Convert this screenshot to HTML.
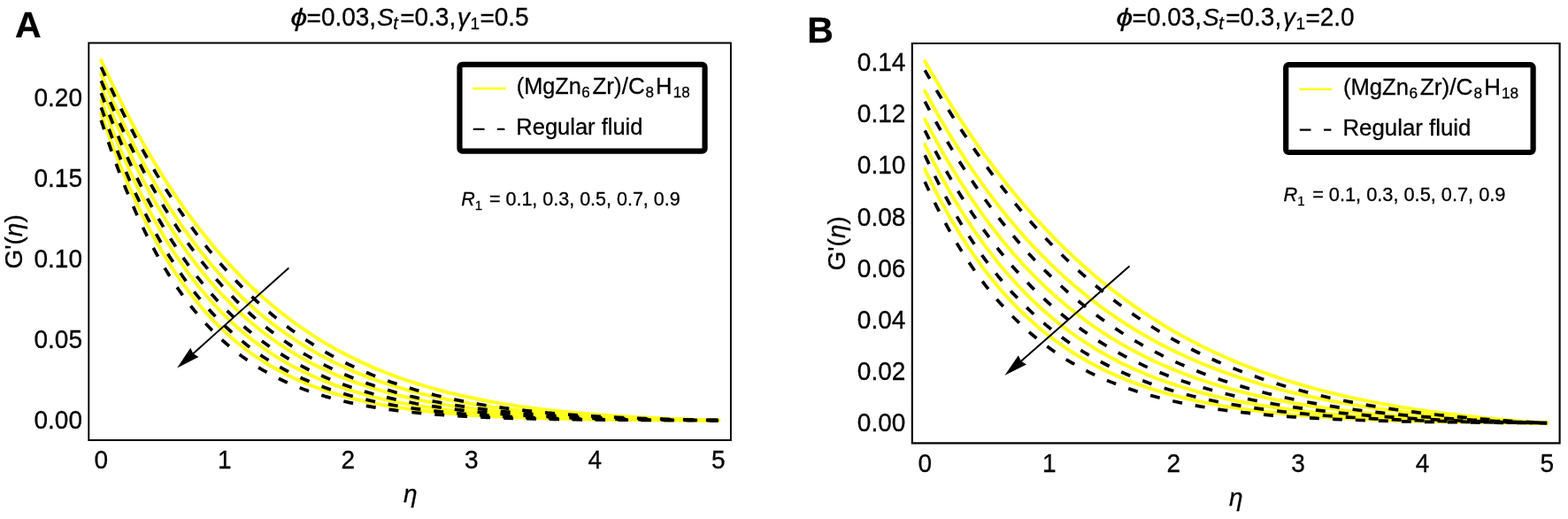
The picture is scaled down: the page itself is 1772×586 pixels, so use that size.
<!DOCTYPE html>
<html><head><meta charset="utf-8"><style>
html,body{margin:0;padding:0;background:#fff;}
svg{display:block;}
text{font-family:"Liberation Sans",Arial,sans-serif;fill:#000;stroke:#000;stroke-width:0.3px;}
.t28{font-size:28px;}
.t25{font-size:25px;}
.lab{font-size:41px;font-weight:bold;}
</style></head><body>
<svg width="1772" height="586" viewBox="0 0 1772 586">
<rect width="1772" height="586" fill="#fff"/>
<text x="16.88" y="42.3" class="lab">A</text>
<text x="912.36" y="47.6" class="lab">B</text>
<text transform="translate(328.4,28.8) scale(1.2,1)" class="t28" font-style="italic">&#x3D5;</text><text x="346.53" y="30.4" class="t28">=</text><text transform="translate(362.88,28.8) scale(1,1.03)" class="t28">0.03,</text><text x="426.11" y="28.8" class="t28" font-style="italic">S</text><text x="444.19" y="33.0" font-size="20" font-style="italic">t</text><text x="452.13" y="30.4" class="t28">=</text><text transform="translate(468.48,28.8) scale(1,1.03)" class="t28">0.3,</text><text x="517.08" y="28.8" class="t28" font-style="italic">&#x3B3;</text><text x="531.55" y="33.2" font-size="19">1</text><text x="542.43" y="30.4" class="t28">=</text><text transform="translate(558.78,28.8) scale(1,1.03)" class="t28">0.5</text>
<text transform="translate(1261.4,28.8) scale(1.2,1)" class="t28" font-style="italic">&#x3D5;</text><text x="1279.53" y="30.4" class="t28">=</text><text transform="translate(1295.88,28.8) scale(1,1.03)" class="t28">0.03,</text><text x="1359.11" y="28.8" class="t28" font-style="italic">S</text><text x="1377.19" y="33.0" font-size="20" font-style="italic">t</text><text x="1385.13" y="30.4" class="t28">=</text><text transform="translate(1401.48,28.8) scale(1,1.03)" class="t28">0.3,</text><text x="1450.08" y="28.8" class="t28" font-style="italic">&#x3B3;</text><text x="1464.55" y="33.2" font-size="19">1</text><text x="1475.43" y="30.4" class="t28">=</text><text transform="translate(1491.78,28.8) scale(1,1.03)" class="t28">2.0</text>
<g fill="none" stroke-linejoin="round"><polyline points="114.3,68.2 115.9,71.6 118.2,76.6 120.8,82.3 123.8,88.6 127.0,95.2 130.4,102.2 134.0,109.4 137.7,116.8 141.6,124.4 145.6,132.1 149.7,139.8 153.9,147.7 158.3,155.5 162.7,163.4 167.2,171.3 171.9,179.2 176.6,187.0 181.4,194.8 186.3,202.6 191.3,210.3 196.3,217.9 201.4,225.5 206.6,232.9 211.8,240.3 217.2,247.5 222.5,254.7 228.0,261.7 233.5,268.6 239.0,275.4 244.7,282.1 250.3,288.7 256.1,295.1 261.9,301.4 267.7,307.5 273.6,313.6 279.5,319.4 285.5,325.2 291.6,330.8 297.6,336.3 303.8,341.6 310.0,346.8 316.2,351.8 322.5,356.7 328.8,361.5 335.1,366.2 341.5,370.7 348.0,375.0 354.5,379.3 361.0,383.4 367.6,387.4 374.2,391.2 380.8,395.0 387.5,398.6 394.2,402.0 401.0,405.4 407.8,408.6 414.6,411.8 421.4,414.8 428.3,417.7 435.3,420.5 442.3,423.2 449.3,425.8 456.3,428.3 463.4,430.7 470.5,433.0 477.6,435.2 484.8,437.3 492.0,439.3 499.2,441.3 506.5,443.2 513.8,444.9 521.1,446.7 528.5,448.3 535.9,449.8 543.3,451.3 550.8,452.8 558.2,454.1 565.8,455.4 573.3,456.6 580.9,457.8 588.5,458.9 596.1,460.0 603.7,461.0 611.4,462.0 619.1,462.9 626.9,463.7 634.6,464.6 642.4,465.3 650.2,466.1 658.1,466.8 665.9,467.4 673.8,468.1 681.7,468.7 689.7,469.2 697.7,469.7 705.6,470.2 713.7,470.7 721.7,471.2 729.8,471.6 737.9,472.0 746.0,472.3 754.1,472.7 762.3,473.0 770.5,473.3 778.7,473.6 786.9,473.9 795.2,474.1 803.5,474.4 811.8,474.6" stroke="#ffff1e" stroke-width="4.0" stroke-linecap="round"/>
<polyline points="114.3,83.7 115.9,87.4 118.2,92.8 120.8,99.0 123.8,105.8 127.0,113.0 130.4,120.4 134.0,128.2 137.7,136.1 141.6,144.1 145.6,152.3 149.7,160.5 153.9,168.8 158.3,177.0 162.7,185.3 167.2,193.5 171.9,201.7 176.6,209.8 181.4,217.8 186.3,225.8 191.3,233.7 196.3,241.4 201.4,249.1 206.6,256.6 211.8,264.0 217.2,271.3 222.5,278.4 228.0,285.4 233.5,292.2 239.0,298.9 244.7,305.5 250.3,311.9 256.1,318.1 261.9,324.2 267.7,330.1 273.6,335.8 279.5,341.4 285.5,346.9 291.6,352.2 297.6,357.3 303.8,362.3 310.0,367.1 316.2,371.8 322.5,376.3 328.8,380.7 335.1,384.9 341.5,389.0 348.0,393.0 354.5,396.8 361.0,400.5 367.6,404.0 374.2,407.4 380.8,410.7 387.5,413.8 394.2,416.9 401.0,419.8 407.8,422.6 414.6,425.3 421.4,427.9 428.3,430.3 435.3,432.7 442.3,434.9 449.3,437.1 456.3,439.2 463.4,441.2 470.5,443.1 477.6,444.9 484.8,446.6 492.0,448.2 499.2,449.8 506.5,451.3 513.8,452.7 521.1,454.1 528.5,455.3 535.9,456.6 543.3,457.7 550.8,458.8 558.2,459.9 565.8,460.8 573.3,461.8 580.9,462.7 588.5,463.5 596.1,464.3 603.7,465.1 611.4,465.8 619.1,466.4 626.9,467.1 634.6,467.7 642.4,468.2 650.2,468.8 658.1,469.3 665.9,469.7 673.8,470.2 681.7,470.6 689.7,471.0 697.7,471.3 705.6,471.7 713.7,472.0 721.7,472.3 729.8,472.6 737.9,472.9 746.0,473.1 754.1,473.4 762.3,473.6 770.5,473.8 778.7,474.0 786.9,474.1 795.2,474.3 803.5,474.5 811.8,474.6" stroke="#ffff1e" stroke-width="4.0" stroke-linecap="round"/>
<polyline points="114.3,97.8 115.9,101.8 118.2,107.6 120.8,114.3 123.8,121.5 127.0,129.1 130.4,137.1 134.0,145.3 137.7,153.7 141.6,162.2 145.6,170.7 149.7,179.4 153.9,188.0 158.3,196.6 162.7,205.1 167.2,213.6 171.9,222.1 176.6,230.4 181.4,238.6 186.3,246.7 191.3,254.7 196.3,262.6 201.4,270.3 206.6,277.8 211.8,285.2 217.2,292.4 222.5,299.5 228.0,306.4 233.5,313.1 239.0,319.6 244.7,326.0 250.3,332.2 256.1,338.2 261.9,344.0 267.7,349.7 273.6,355.2 279.5,360.5 285.5,365.6 291.6,370.6 297.6,375.4 303.8,380.0 310.0,384.5 316.2,388.8 322.5,392.9 328.8,396.9 335.1,400.7 341.5,404.4 348.0,408.0 354.5,411.4 361.0,414.6 367.6,417.8 374.2,420.8 380.8,423.6 387.5,426.4 394.2,429.0 401.0,431.5 407.8,433.9 414.6,436.2 421.4,438.4 428.3,440.4 435.3,442.4 442.3,444.3 449.3,446.1 456.3,447.8 463.4,449.4 470.5,451.0 477.6,452.4 484.8,453.8 492.0,455.1 499.2,456.4 506.5,457.6 513.8,458.7 521.1,459.7 528.5,460.7 535.9,461.7 543.3,462.6 550.8,463.4 558.2,464.2 565.8,464.9 573.3,465.6 580.9,466.3 588.5,466.9 596.1,467.5 603.7,468.1 611.4,468.6 619.1,469.1 626.9,469.5 634.6,469.9 642.4,470.3 650.2,470.7 658.1,471.1 665.9,471.4 673.8,471.7 681.7,472.0 689.7,472.2 697.7,472.5 705.6,472.7 713.7,472.9 721.7,473.1 729.8,473.3 737.9,473.5 746.0,473.7 754.1,473.8 762.3,474.0 770.5,474.1 778.7,474.2 786.9,474.3 795.2,474.4 803.5,474.5 811.8,474.6" stroke="#ffff1e" stroke-width="4.0" stroke-linecap="round"/>
<polyline points="114.3,113.2 115.9,117.5 118.2,123.6 120.8,130.7 123.8,138.5 127.0,146.6 130.4,155.1 134.0,163.7 137.7,172.6 141.6,181.5 145.6,190.5 149.7,199.5 153.9,208.4 158.3,217.3 162.7,226.2 167.2,234.9 171.9,243.5 176.6,252.1 181.4,260.4 186.3,268.6 191.3,276.7 196.3,284.5 201.4,292.2 206.6,299.7 211.8,307.0 217.2,314.1 222.5,321.1 228.0,327.8 233.5,334.3 239.0,340.6 244.7,346.7 250.3,352.7 256.1,358.4 261.9,363.9 267.7,369.2 273.6,374.4 279.5,379.3 285.5,384.1 291.6,388.6 297.6,393.0 303.8,397.2 310.0,401.3 316.2,405.2 322.5,408.9 328.8,412.4 335.1,415.8 341.5,419.1 348.0,422.2 354.5,425.1 361.0,428.0 367.6,430.6 374.2,433.2 380.8,435.6 387.5,437.9 394.2,440.1 401.0,442.2 407.8,444.2 414.6,446.1 421.4,447.9 428.3,449.6 435.3,451.2 442.3,452.7 449.3,454.1 456.3,455.4 463.4,456.7 470.5,457.9 477.6,459.0 484.8,460.1 492.0,461.1 499.2,462.0 506.5,462.9 513.8,463.8 521.1,464.5 528.5,465.3 535.9,466.0 543.3,466.6 550.8,467.2 558.2,467.8 565.8,468.3 573.3,468.8 580.9,469.3 588.5,469.7 596.1,470.1 603.7,470.5 611.4,470.8 619.1,471.1 626.9,471.4 634.6,471.7 642.4,472.0 650.2,472.2 658.1,472.5 665.9,472.7 673.8,472.9 681.7,473.0 689.7,473.2 697.7,473.4 705.6,473.5 713.7,473.6 721.7,473.8 729.8,473.9 737.9,474.0 746.0,474.1 754.1,474.2 762.3,474.2 770.5,474.3 778.7,474.4 786.9,474.4 795.2,474.5 803.5,474.6 811.8,474.6" stroke="#ffff1e" stroke-width="4.0" stroke-linecap="round"/>
<polyline points="114.3,128.1 115.9,132.7 118.2,139.3 120.8,146.8 123.8,155.0 127.0,163.7 130.4,172.6 134.0,181.7 137.7,191.0 141.6,200.3 145.6,209.7 149.7,219.0 153.9,228.3 158.3,237.4 162.7,246.5 167.2,255.4 171.9,264.2 176.6,272.8 181.4,281.2 186.3,289.4 191.3,297.4 196.3,305.2 201.4,312.8 206.6,320.2 211.8,327.3 217.2,334.3 222.5,340.9 228.0,347.4 233.5,353.7 239.0,359.7 244.7,365.5 250.3,371.0 256.1,376.4 261.9,381.6 267.7,386.5 273.6,391.2 279.5,395.8 285.5,400.1 291.6,404.2 297.6,408.2 303.8,412.0 310.0,415.6 316.2,419.0 322.5,422.3 328.8,425.4 335.1,428.3 341.5,431.1 348.0,433.8 354.5,436.3 361.0,438.7 367.6,440.9 374.2,443.1 380.8,445.1 387.5,447.0 394.2,448.8 401.0,450.5 407.8,452.1 414.6,453.7 421.4,455.1 428.3,456.4 435.3,457.7 442.3,458.9 449.3,460.0 456.3,461.0 463.4,462.0 470.5,462.9 477.6,463.8 484.8,464.6 492.0,465.3 499.2,466.0 506.5,466.7 513.8,467.3 521.1,467.9 528.5,468.4 535.9,468.9 543.3,469.3 550.8,469.8 558.2,470.2 565.8,470.5 573.3,470.9 580.9,471.2 588.5,471.5 596.1,471.8 603.7,472.0 611.4,472.2 619.1,472.5 626.9,472.7 634.6,472.8 642.4,473.0 650.2,473.2 658.1,473.3 665.9,473.4 673.8,473.6 681.7,473.7 689.7,473.8 697.7,473.9 705.6,474.0 713.7,474.0 721.7,474.1 729.8,474.2 737.9,474.2 746.0,474.3 754.1,474.3 762.3,474.4 770.5,474.4 778.7,474.5 786.9,474.5 795.2,474.5 803.5,474.6 811.8,474.6" stroke="#ffff1e" stroke-width="4.0" stroke-linecap="round"/>
<polyline points="114.3,75.7 115.9,79.2 118.2,84.2 120.8,90.0 123.8,96.3 127.0,103.0 130.4,110.0 134.0,117.3 137.7,124.8 141.6,132.5 145.6,140.3 149.7,148.1 153.9,156.1 158.3,164.0 162.7,172.0 167.2,180.0 171.9,188.0 176.6,196.0 181.4,203.9 186.3,211.8 191.3,219.6 196.3,227.4 201.4,235.0 206.6,242.6 211.8,250.0 217.2,257.4 222.5,264.7 228.0,271.8 233.5,278.8 239.0,285.7 244.7,292.4 250.3,299.1 256.1,305.5 261.9,311.9 267.7,318.1 273.6,324.1 279.5,330.1 285.5,335.8 291.6,341.4 297.6,346.9 303.8,352.2 310.0,357.4 316.2,362.4 322.5,367.3 328.8,372.0 335.1,376.6 341.5,381.0 348.0,385.3 354.5,389.4 361.0,393.5 367.6,397.3 374.2,401.1 380.8,404.7 387.5,408.1 394.2,411.5 401.0,414.7 407.8,417.8 414.6,420.7 421.4,423.6 428.3,426.3 435.3,428.9 442.3,431.4 449.3,433.8 456.3,436.1 463.4,438.3 470.5,440.4 477.6,442.4 484.8,444.3 492.0,446.2 499.2,447.9 506.5,449.5 513.8,451.1 521.1,452.6 528.5,454.0 535.9,455.4 543.3,456.7 550.8,457.9 558.2,459.0 565.8,460.1 573.3,461.1 580.9,462.1 588.5,463.0 596.1,463.9 603.7,464.7 611.4,465.4 619.1,466.2 626.9,466.8 634.6,467.5 642.4,468.1 650.2,468.6 658.1,469.2 665.9,469.7 673.8,470.1 681.7,470.6 689.7,471.0 697.7,471.4 705.6,471.7 713.7,472.0 721.7,472.3 729.8,472.6 737.9,472.9 746.0,473.2 754.1,473.4 762.3,473.6 770.5,473.8 778.7,474.0 786.9,474.2 795.2,474.3 803.5,474.5 811.8,474.6" stroke="#000" stroke-width="3.7" stroke-dasharray="11 15"/>
<polyline points="114.3,91.3 115.9,95.0 118.2,100.5 120.8,106.7 123.8,113.6 127.0,120.8 130.4,128.4 134.0,136.3 137.7,144.3 141.6,152.4 145.6,160.7 149.7,169.0 153.9,177.4 158.3,185.7 162.7,194.1 167.2,202.4 171.9,210.7 176.6,218.9 181.4,227.1 186.3,235.2 191.3,243.1 196.3,251.0 201.4,258.7 206.6,266.3 211.8,273.8 217.2,281.1 222.5,288.3 228.0,295.3 233.5,302.2 239.0,308.9 244.7,315.5 250.3,321.9 256.1,328.1 261.9,334.2 267.7,340.1 273.6,345.8 279.5,351.4 285.5,356.8 291.6,362.1 297.6,367.1 303.8,372.0 310.0,376.8 316.2,381.4 322.5,385.8 328.8,390.1 335.1,394.2 341.5,398.2 348.0,402.0 354.5,405.7 361.0,409.2 367.6,412.6 374.2,415.8 380.8,419.0 387.5,422.0 394.2,424.8 401.0,427.6 407.8,430.2 414.6,432.7 421.4,435.1 428.3,437.4 435.3,439.5 442.3,441.6 449.3,443.6 456.3,445.5 463.4,447.3 470.5,448.9 477.6,450.6 484.8,452.1 492.0,453.5 499.2,454.9 506.5,456.2 513.8,457.4 521.1,458.6 528.5,459.7 535.9,460.7 543.3,461.7 550.8,462.6 558.2,463.5 565.8,464.3 573.3,465.1 580.9,465.8 588.5,466.5 596.1,467.1 603.7,467.7 611.4,468.3 619.1,468.8 626.9,469.3 634.6,469.7 642.4,470.2 650.2,470.6 658.1,470.9 665.9,471.3 673.8,471.6 681.7,471.9 689.7,472.2 697.7,472.4 705.6,472.7 713.7,472.9 721.7,473.1 729.8,473.3 737.9,473.5 746.0,473.7 754.1,473.8 762.3,474.0 770.5,474.1 778.7,474.2 786.9,474.3 795.2,474.4 803.5,474.5 811.8,474.6" stroke="#000" stroke-width="3.7" stroke-dasharray="11 15"/>
<polyline points="114.3,105.2 115.9,109.4 118.2,115.5 120.8,122.4 123.8,130.0 127.0,138.0 130.4,146.3 134.0,154.8 137.7,163.5 141.6,172.3 145.6,181.2 149.7,190.1 153.9,199.0 158.3,207.8 162.7,216.6 167.2,225.3 171.9,234.0 176.6,242.5 181.4,250.8 186.3,259.1 191.3,267.2 196.3,275.1 201.4,282.8 206.6,290.4 211.8,297.8 217.2,305.1 222.5,312.1 228.0,318.9 233.5,325.6 239.0,332.1 244.7,338.3 250.3,344.4 256.1,350.3 261.9,356.0 267.7,361.5 273.6,366.8 279.5,372.0 285.5,376.9 291.6,381.7 297.6,386.3 303.8,390.7 310.0,394.9 316.2,399.0 322.5,402.9 328.8,406.7 335.1,410.3 341.5,413.7 348.0,417.0 354.5,420.2 361.0,423.2 367.6,426.0 374.2,428.8 380.8,431.4 387.5,433.9 394.2,436.3 401.0,438.5 407.8,440.7 414.6,442.7 421.4,444.7 428.3,446.5 435.3,448.2 442.3,449.9 449.3,451.5 456.3,452.9 463.4,454.3 470.5,455.7 477.6,456.9 484.8,458.1 492.0,459.2 499.2,460.3 506.5,461.2 513.8,462.2 521.1,463.1 528.5,463.9 535.9,464.7 543.3,465.4 550.8,466.1 558.2,466.7 565.8,467.3 573.3,467.9 580.9,468.4 588.5,468.9 596.1,469.3 603.7,469.8 611.4,470.2 619.1,470.6 626.9,470.9 634.6,471.2 642.4,471.5 650.2,471.8 658.1,472.1 665.9,472.3 673.8,472.5 681.7,472.8 689.7,472.9 697.7,473.1 705.6,473.3 713.7,473.5 721.7,473.6 729.8,473.7 737.9,473.9 746.0,474.0 754.1,474.1 762.3,474.2 770.5,474.3 778.7,474.3 786.9,474.4 795.2,474.5 803.5,474.5 811.8,474.6" stroke="#000" stroke-width="3.7" stroke-dasharray="11 15"/>
<polyline points="114.3,121.3 115.9,125.7 118.2,132.2 120.8,139.6 123.8,147.6 127.0,156.1 130.4,164.9 134.0,173.9 137.7,183.0 141.6,192.2 145.6,201.5 149.7,210.7 153.9,219.9 158.3,229.0 162.7,238.1 167.2,247.0 171.9,255.7 176.6,264.3 181.4,272.8 186.3,281.1 191.3,289.2 196.3,297.0 201.4,304.7 206.6,312.2 211.8,319.5 217.2,326.5 222.5,333.4 228.0,340.0 233.5,346.4 239.0,352.6 244.7,358.5 250.3,364.3 256.1,369.8 261.9,375.2 267.7,380.3 273.6,385.2 279.5,390.0 285.5,394.5 291.6,398.8 297.6,403.0 303.8,406.9 310.0,410.7 316.2,414.4 322.5,417.8 328.8,421.1 335.1,424.2 341.5,427.2 348.0,430.0 354.5,432.7 361.0,435.3 367.6,437.7 374.2,440.0 380.8,442.2 387.5,444.3 394.2,446.2 401.0,448.1 407.8,449.8 414.6,451.4 421.4,453.0 428.3,454.5 435.3,455.8 442.3,457.1 449.3,458.3 456.3,459.5 463.4,460.6 470.5,461.6 477.6,462.5 484.8,463.4 492.0,464.2 499.2,465.0 506.5,465.7 513.8,466.4 521.1,467.0 528.5,467.6 535.9,468.2 543.3,468.7 550.8,469.2 558.2,469.6 565.8,470.0 573.3,470.4 580.9,470.7 588.5,471.1 596.1,471.4 603.7,471.7 611.4,471.9 619.1,472.2 626.9,472.4 634.6,472.6 642.4,472.8 650.2,473.0 658.1,473.1 665.9,473.3 673.8,473.4 681.7,473.6 689.7,473.7 697.7,473.8 705.6,473.9 713.7,474.0 721.7,474.0 729.8,474.1 737.9,474.2 746.0,474.3 754.1,474.3 762.3,474.4 770.5,474.4 778.7,474.5 786.9,474.5 795.2,474.5 803.5,474.6 811.8,474.6" stroke="#000" stroke-width="3.7" stroke-dasharray="11 15"/>
<polyline points="114.3,135.7 115.9,140.6 118.2,147.6 120.8,155.6 123.8,164.2 127.0,173.3 130.4,182.7 134.0,192.3 137.7,202.0 141.6,211.7 145.6,221.4 149.7,231.0 153.9,240.6 158.3,250.0 162.7,259.3 167.2,268.5 171.9,277.4 176.6,286.1 181.4,294.6 186.3,302.9 191.3,311.0 196.3,318.8 201.4,326.3 206.6,333.7 211.8,340.7 217.2,347.5 222.5,354.1 228.0,360.4 233.5,366.5 239.0,372.3 244.7,377.9 250.3,383.2 256.1,388.4 261.9,393.2 267.7,397.9 273.6,402.4 279.5,406.6 285.5,410.7 291.6,414.5 297.6,418.2 303.8,421.6 310.0,424.9 316.2,428.0 322.5,431.0 328.8,433.8 335.1,436.4 341.5,438.9 348.0,441.3 354.5,443.5 361.0,445.6 367.6,447.6 374.2,449.4 380.8,451.2 387.5,452.8 394.2,454.4 401.0,455.8 407.8,457.2 414.6,458.4 421.4,459.6 428.3,460.7 435.3,461.8 442.3,462.7 449.3,463.6 456.3,464.5 463.4,465.3 470.5,466.0 477.6,466.7 484.8,467.3 492.0,467.9 499.2,468.4 506.5,468.9 513.8,469.4 521.1,469.8 528.5,470.2 535.9,470.6 543.3,471.0 550.8,471.3 558.2,471.6 565.8,471.8 573.3,472.1 580.9,472.3 588.5,472.5 596.1,472.7 603.7,472.9 611.4,473.1 619.1,473.2 626.9,473.3 634.6,473.5 642.4,473.6 650.2,473.7 658.1,473.8 665.9,473.9 673.8,474.0 681.7,474.0 689.7,474.1 697.7,474.2 705.6,474.2 713.7,474.3 721.7,474.3 729.8,474.3 737.9,474.4 746.0,474.4 754.1,474.5 762.3,474.5 770.5,474.5 778.7,474.5 786.9,474.5 795.2,474.6 803.5,474.6 811.8,474.6" stroke="#000" stroke-width="3.7" stroke-dasharray="11 15"/></g>
<g fill="none" stroke-linejoin="round"><polyline points="1045.2,69.0 1046.8,71.8 1049.1,75.8 1051.8,80.5 1054.8,85.6 1058.0,91.1 1061.4,96.8 1065.0,102.8 1068.8,109.0 1072.7,115.2 1076.7,121.7 1080.9,128.2 1085.1,134.8 1089.5,141.4 1094.0,148.1 1098.6,154.8 1103.2,161.6 1108.0,168.3 1112.8,175.1 1117.8,181.8 1122.8,188.5 1127.8,195.2 1133.0,201.9 1138.2,208.5 1143.5,215.1 1148.9,221.6 1154.3,228.0 1159.8,234.4 1165.3,240.8 1170.9,247.0 1176.6,253.2 1182.3,259.3 1188.1,265.4 1193.9,271.3 1199.8,277.2 1205.7,282.9 1211.7,288.6 1217.8,294.2 1223.9,299.7 1230.0,305.1 1236.2,310.4 1242.4,315.6 1248.7,320.7 1255.0,325.7 1261.4,330.7 1267.8,335.5 1274.2,340.2 1280.7,344.8 1287.3,349.3 1293.8,353.8 1300.4,358.1 1307.1,362.3 1313.8,366.5 1320.5,370.5 1327.3,374.4 1334.1,378.3 1341.0,382.0 1347.8,385.6 1354.8,389.2 1361.7,392.7 1368.7,396.0 1375.7,399.3 1382.8,402.5 1389.9,405.6 1397.0,408.6 1404.2,411.6 1411.4,414.4 1418.6,417.2 1425.9,419.9 1433.2,422.5 1440.5,425.0 1447.9,427.4 1455.2,429.8 1462.7,432.1 1470.1,434.3 1477.6,436.5 1485.1,438.6 1492.6,440.6 1500.2,442.5 1507.8,444.4 1515.4,446.2 1523.1,448.0 1530.8,449.7 1538.5,451.3 1546.2,452.9 1554.0,454.4 1561.8,455.9 1569.6,457.3 1577.5,458.7 1585.3,460.0 1593.2,461.2 1601.2,462.4 1609.1,463.6 1617.1,464.7 1625.1,465.8 1633.2,466.9 1641.2,467.8 1649.3,468.8 1657.4,469.7 1665.5,470.6 1673.7,471.4 1681.9,472.3 1690.1,473.0 1698.3,473.8 1706.6,474.5 1714.8,475.2 1723.2,475.8 1731.5,476.4 1739.8,477.0 1748.2,477.6" stroke="#ffff1e" stroke-width="4.0" stroke-linecap="round"/>
<polyline points="1045.2,102.7 1046.8,105.7 1049.1,109.9 1051.8,114.8 1054.8,120.2 1058.0,125.9 1061.4,131.9 1065.0,138.1 1068.8,144.5 1072.7,151.0 1076.7,157.5 1080.9,164.2 1085.1,170.9 1089.5,177.7 1094.0,184.5 1098.6,191.3 1103.2,198.1 1108.0,204.8 1112.8,211.6 1117.8,218.2 1122.8,224.9 1127.8,231.5 1133.0,238.0 1138.2,244.5 1143.5,250.9 1148.9,257.2 1154.3,263.4 1159.8,269.6 1165.3,275.6 1170.9,281.6 1176.6,287.4 1182.3,293.2 1188.1,298.9 1193.9,304.4 1199.8,309.9 1205.7,315.2 1211.7,320.5 1217.8,325.6 1223.9,330.6 1230.0,335.6 1236.2,340.4 1242.4,345.1 1248.7,349.7 1255.0,354.1 1261.4,358.5 1267.8,362.8 1274.2,367.0 1280.7,371.0 1287.3,375.0 1293.8,378.8 1300.4,382.6 1307.1,386.2 1313.8,389.8 1320.5,393.2 1327.3,396.6 1334.1,399.8 1341.0,403.0 1347.8,406.0 1354.8,409.0 1361.7,411.9 1368.7,414.7 1375.7,417.4 1382.8,420.0 1389.9,422.6 1397.0,425.0 1404.2,427.4 1411.4,429.7 1418.6,431.9 1425.9,434.1 1433.2,436.1 1440.5,438.1 1447.9,440.1 1455.2,441.9 1462.7,443.8 1470.1,445.5 1477.6,447.2 1485.1,448.8 1492.6,450.3 1500.2,451.8 1507.8,453.3 1515.4,454.7 1523.1,456.0 1530.8,457.3 1538.5,458.5 1546.2,459.7 1554.0,460.9 1561.8,461.9 1569.6,463.0 1577.5,464.0 1585.3,465.0 1593.2,465.9 1601.2,466.8 1609.1,467.6 1617.1,468.5 1625.1,469.2 1633.2,470.0 1641.2,470.7 1649.3,471.4 1657.4,472.1 1665.5,472.7 1673.7,473.3 1681.9,473.9 1690.1,474.4 1698.3,474.9 1706.6,475.4 1714.8,475.9 1723.2,476.4 1731.5,476.8 1739.8,477.2 1748.2,477.6" stroke="#ffff1e" stroke-width="4.0" stroke-linecap="round"/>
<polyline points="1045.2,134.8 1046.8,137.9 1049.1,142.3 1051.8,147.4 1054.8,152.9 1058.0,158.8 1061.4,165.0 1065.0,171.4 1068.8,177.9 1072.7,184.5 1076.7,191.2 1080.9,198.0 1085.1,204.8 1089.5,211.7 1094.0,218.5 1098.6,225.3 1103.2,232.1 1108.0,238.9 1112.8,245.6 1117.8,252.2 1122.8,258.8 1127.8,265.3 1133.0,271.7 1138.2,278.0 1143.5,284.3 1148.9,290.4 1154.3,296.4 1159.8,302.3 1165.3,308.1 1170.9,313.8 1176.6,319.4 1182.3,324.9 1188.1,330.2 1193.9,335.4 1199.8,340.5 1205.7,345.5 1211.7,350.4 1217.8,355.1 1223.9,359.7 1230.0,364.2 1236.2,368.6 1242.4,372.8 1248.7,377.0 1255.0,381.0 1261.4,384.9 1267.8,388.7 1274.2,392.3 1280.7,395.9 1287.3,399.3 1293.8,402.7 1300.4,405.9 1307.1,409.0 1313.8,412.0 1320.5,414.9 1327.3,417.8 1334.1,420.5 1341.0,423.1 1347.8,425.6 1354.8,428.1 1361.7,430.4 1368.7,432.7 1375.7,434.9 1382.8,437.0 1389.9,439.0 1397.0,440.9 1404.2,442.8 1411.4,444.6 1418.6,446.3 1425.9,448.0 1433.2,449.6 1440.5,451.1 1447.9,452.5 1455.2,453.9 1462.7,455.3 1470.1,456.5 1477.6,457.8 1485.1,458.9 1492.6,460.0 1500.2,461.1 1507.8,462.1 1515.4,463.1 1523.1,464.0 1530.8,464.9 1538.5,465.8 1546.2,466.6 1554.0,467.3 1561.8,468.1 1569.6,468.8 1577.5,469.4 1585.3,470.0 1593.2,470.6 1601.2,471.2 1609.1,471.8 1617.1,472.3 1625.1,472.8 1633.2,473.2 1641.2,473.7 1649.3,474.1 1657.4,474.5 1665.5,474.8 1673.7,475.2 1681.9,475.5 1690.1,475.8 1698.3,476.1 1706.6,476.4 1714.8,476.7 1723.2,476.9 1731.5,477.2 1739.8,477.4 1748.2,477.6" stroke="#ffff1e" stroke-width="4.0" stroke-linecap="round"/>
<polyline points="1045.2,163.2 1046.8,166.5 1049.1,171.1 1051.8,176.5 1054.8,182.3 1058.0,188.5 1061.4,194.9 1065.0,201.6 1068.8,208.3 1072.7,215.2 1076.7,222.1 1080.9,229.1 1085.1,236.0 1089.5,243.0 1094.0,249.9 1098.6,256.8 1103.2,263.6 1108.0,270.3 1112.8,277.0 1117.8,283.6 1122.8,290.0 1127.8,296.4 1133.0,302.7 1138.2,308.8 1143.5,314.8 1148.9,320.7 1154.3,326.5 1159.8,332.1 1165.3,337.6 1170.9,342.9 1176.6,348.1 1182.3,353.2 1188.1,358.2 1193.9,363.0 1199.8,367.6 1205.7,372.1 1211.7,376.5 1217.8,380.8 1223.9,384.9 1230.0,388.9 1236.2,392.8 1242.4,396.5 1248.7,400.1 1255.0,403.6 1261.4,406.9 1267.8,410.2 1274.2,413.3 1280.7,416.3 1287.3,419.2 1293.8,422.0 1300.4,424.7 1307.1,427.3 1313.8,429.7 1320.5,432.1 1327.3,434.4 1334.1,436.6 1341.0,438.7 1347.8,440.7 1354.8,442.6 1361.7,444.5 1368.7,446.2 1375.7,447.9 1382.8,449.6 1389.9,451.1 1397.0,452.6 1404.2,454.0 1411.4,455.3 1418.6,456.6 1425.9,457.8 1433.2,459.0 1440.5,460.1 1447.9,461.1 1455.2,462.1 1462.7,463.1 1470.1,464.0 1477.6,464.8 1485.1,465.7 1492.6,466.4 1500.2,467.2 1507.8,467.9 1515.4,468.5 1523.1,469.2 1530.8,469.7 1538.5,470.3 1546.2,470.8 1554.0,471.3 1561.8,471.8 1569.6,472.3 1577.5,472.7 1585.3,473.1 1593.2,473.5 1601.2,473.8 1609.1,474.2 1617.1,474.5 1625.1,474.8 1633.2,475.1 1641.2,475.3 1649.3,475.6 1657.4,475.8 1665.5,476.0 1673.7,476.2 1681.9,476.4 1690.1,476.6 1698.3,476.8 1706.6,476.9 1714.8,477.1 1723.2,477.2 1731.5,477.4 1739.8,477.5 1748.2,477.6" stroke="#ffff1e" stroke-width="4.0" stroke-linecap="round"/>
<polyline points="1045.2,191.1 1046.8,194.4 1049.1,199.2 1051.8,204.7 1054.8,210.7 1058.0,217.0 1061.4,223.5 1065.0,230.2 1068.8,237.0 1072.7,243.9 1076.7,250.9 1080.9,257.8 1085.1,264.8 1089.5,271.6 1094.0,278.5 1098.6,285.2 1103.2,291.9 1108.0,298.5 1112.8,305.0 1117.8,311.3 1122.8,317.5 1127.8,323.6 1133.0,329.6 1138.2,335.4 1143.5,341.1 1148.9,346.6 1154.3,352.0 1159.8,357.3 1165.3,362.3 1170.9,367.3 1176.6,372.1 1182.3,376.7 1188.1,381.2 1193.9,385.5 1199.8,389.7 1205.7,393.7 1211.7,397.6 1217.8,401.4 1223.9,405.0 1230.0,408.5 1236.2,411.8 1242.4,415.1 1248.7,418.2 1255.0,421.1 1261.4,424.0 1267.8,426.7 1274.2,429.4 1280.7,431.9 1287.3,434.3 1293.8,436.6 1300.4,438.8 1307.1,440.9 1313.8,442.9 1320.5,444.8 1327.3,446.6 1334.1,448.3 1341.0,450.0 1347.8,451.6 1354.8,453.1 1361.7,454.5 1368.7,455.9 1375.7,457.1 1382.8,458.4 1389.9,459.5 1397.0,460.6 1404.2,461.7 1411.4,462.7 1418.6,463.6 1425.9,464.5 1433.2,465.3 1440.5,466.1 1447.9,466.9 1455.2,467.6 1462.7,468.3 1470.1,468.9 1477.6,469.5 1485.1,470.1 1492.6,470.6 1500.2,471.1 1507.8,471.6 1515.4,472.0 1523.1,472.4 1530.8,472.8 1538.5,473.2 1546.2,473.5 1554.0,473.8 1561.8,474.1 1569.6,474.4 1577.5,474.7 1585.3,475.0 1593.2,475.2 1601.2,475.4 1609.1,475.6 1617.1,475.8 1625.1,476.0 1633.2,476.2 1641.2,476.3 1649.3,476.5 1657.4,476.6 1665.5,476.7 1673.7,476.8 1681.9,477.0 1690.1,477.1 1698.3,477.2 1706.6,477.2 1714.8,477.3 1723.2,477.4 1731.5,477.5 1739.8,477.5 1748.2,477.6" stroke="#ffff1e" stroke-width="4.0" stroke-linecap="round"/>
<polyline points="1045.2,79.4 1046.8,82.1 1049.1,86.1 1051.8,90.8 1054.8,95.9 1058.0,101.3 1061.4,107.0 1065.0,112.9 1068.8,119.0 1072.7,125.3 1076.7,131.7 1080.9,138.2 1085.1,144.8 1089.5,151.4 1094.0,158.1 1098.6,164.8 1103.2,171.6 1108.0,178.3 1112.8,185.1 1117.8,191.9 1122.8,198.6 1127.8,205.3 1133.0,212.0 1138.2,218.6 1143.5,225.2 1148.9,231.8 1154.3,238.3 1159.8,244.7 1165.3,251.0 1170.9,257.3 1176.6,263.5 1182.3,269.7 1188.1,275.7 1193.9,281.7 1199.8,287.5 1205.7,293.3 1211.7,299.0 1217.8,304.6 1223.9,310.1 1230.0,315.5 1236.2,320.8 1242.4,326.0 1248.7,331.1 1255.0,336.1 1261.4,341.0 1267.8,345.8 1274.2,350.4 1280.7,355.0 1287.3,359.5 1293.8,363.8 1300.4,368.1 1307.1,372.3 1313.8,376.3 1320.5,380.3 1327.3,384.1 1334.1,387.8 1341.0,391.5 1347.8,395.0 1354.8,398.5 1361.7,401.8 1368.7,405.0 1375.7,408.2 1382.8,411.2 1389.9,414.2 1397.0,417.1 1404.2,419.9 1411.4,422.5 1418.6,425.1 1425.9,427.7 1433.2,430.1 1440.5,432.4 1447.9,434.7 1455.2,436.9 1462.7,439.0 1470.1,441.0 1477.6,443.0 1485.1,444.9 1492.6,446.7 1500.2,448.5 1507.8,450.1 1515.4,451.7 1523.1,453.3 1530.8,454.8 1538.5,456.2 1546.2,457.6 1554.0,458.9 1561.8,460.2 1569.6,461.4 1577.5,462.5 1585.3,463.6 1593.2,464.7 1601.2,465.7 1609.1,466.7 1617.1,467.6 1625.1,468.5 1633.2,469.3 1641.2,470.1 1649.3,470.9 1657.4,471.6 1665.5,472.3 1673.7,473.0 1681.9,473.6 1690.1,474.2 1698.3,474.8 1706.6,475.3 1714.8,475.8 1723.2,476.3 1731.5,476.8 1739.8,477.2 1748.2,477.6" stroke="#000" stroke-width="3.7" stroke-dasharray="11 15"/>
<polyline points="1045.2,114.6 1046.8,117.6 1049.1,121.9 1051.8,126.9 1054.8,132.3 1058.0,138.1 1061.4,144.2 1065.0,150.4 1068.8,156.9 1072.7,163.4 1076.7,170.1 1080.9,176.9 1085.1,183.7 1089.5,190.5 1094.0,197.4 1098.6,204.2 1103.2,211.1 1108.0,217.9 1112.8,224.7 1117.8,231.5 1122.8,238.2 1127.8,244.9 1133.0,251.5 1138.2,258.0 1143.5,264.4 1148.9,270.8 1154.3,277.0 1159.8,283.2 1165.3,289.3 1170.9,295.3 1176.6,301.1 1182.3,306.9 1188.1,312.5 1193.9,318.1 1199.8,323.5 1205.7,328.8 1211.7,334.1 1217.8,339.1 1223.9,344.1 1230.0,349.0 1236.2,353.7 1242.4,358.3 1248.7,362.8 1255.0,367.2 1261.4,371.5 1267.8,375.7 1274.2,379.7 1280.7,383.6 1287.3,387.5 1293.8,391.2 1300.4,394.8 1307.1,398.2 1313.8,401.6 1320.5,404.9 1327.3,408.1 1334.1,411.1 1341.0,414.1 1347.8,417.0 1354.8,419.8 1361.7,422.4 1368.7,425.0 1375.7,427.5 1382.8,429.9 1389.9,432.3 1397.0,434.5 1404.2,436.6 1411.4,438.7 1418.6,440.7 1425.9,442.6 1433.2,444.5 1440.5,446.2 1447.9,447.9 1455.2,449.5 1462.7,451.1 1470.1,452.6 1477.6,454.0 1485.1,455.4 1492.6,456.7 1500.2,458.0 1507.8,459.2 1515.4,460.3 1523.1,461.4 1530.8,462.5 1538.5,463.5 1546.2,464.4 1554.0,465.4 1561.8,466.2 1569.6,467.1 1577.5,467.8 1585.3,468.6 1593.2,469.3 1601.2,470.0 1609.1,470.6 1617.1,471.2 1625.1,471.8 1633.2,472.4 1641.2,472.9 1649.3,473.4 1657.4,473.9 1665.5,474.3 1673.7,474.7 1681.9,475.1 1690.1,475.5 1698.3,475.8 1706.6,476.2 1714.8,476.5 1723.2,476.8 1731.5,477.1 1739.8,477.3 1748.2,477.6" stroke="#000" stroke-width="3.7" stroke-dasharray="11 15"/>
<polyline points="1045.2,147.3 1046.8,150.5 1049.1,155.1 1051.8,160.4 1054.8,166.2 1058.0,172.3 1061.4,178.7 1065.0,185.3 1068.8,192.1 1072.7,198.9 1076.7,205.8 1080.9,212.8 1085.1,219.8 1089.5,226.8 1094.0,233.7 1098.6,240.7 1103.2,247.6 1108.0,254.4 1112.8,261.2 1117.8,267.9 1122.8,274.5 1127.8,281.0 1133.0,287.4 1138.2,293.7 1143.5,299.9 1148.9,305.9 1154.3,311.9 1159.8,317.7 1165.3,323.4 1170.9,329.0 1176.6,334.4 1182.3,339.7 1188.1,344.9 1193.9,350.0 1199.8,354.9 1205.7,359.7 1211.7,364.3 1217.8,368.8 1223.9,373.2 1230.0,377.5 1236.2,381.6 1242.4,385.6 1248.7,389.5 1255.0,393.2 1261.4,396.9 1267.8,400.4 1274.2,403.8 1280.7,407.1 1287.3,410.2 1293.8,413.3 1300.4,416.3 1307.1,419.1 1313.8,421.8 1320.5,424.5 1327.3,427.0 1334.1,429.5 1341.0,431.8 1347.8,434.1 1354.8,436.2 1361.7,438.3 1368.7,440.3 1375.7,442.2 1382.8,444.1 1389.9,445.8 1397.0,447.5 1404.2,449.1 1411.4,450.7 1418.6,452.2 1425.9,453.6 1433.2,454.9 1440.5,456.2 1447.9,457.5 1455.2,458.6 1462.7,459.8 1470.1,460.8 1477.6,461.8 1485.1,462.8 1492.6,463.7 1500.2,464.6 1507.8,465.5 1515.4,466.3 1523.1,467.0 1530.8,467.7 1538.5,468.4 1546.2,469.1 1554.0,469.7 1561.8,470.3 1569.6,470.8 1577.5,471.3 1585.3,471.8 1593.2,472.3 1601.2,472.8 1609.1,473.2 1617.1,473.6 1625.1,474.0 1633.2,474.3 1641.2,474.6 1649.3,475.0 1657.4,475.3 1665.5,475.5 1673.7,475.8 1681.9,476.1 1690.1,476.3 1698.3,476.5 1706.6,476.7 1714.8,476.9 1723.2,477.1 1731.5,477.3 1739.8,477.4 1748.2,477.6" stroke="#000" stroke-width="3.7" stroke-dasharray="11 15"/>
<polyline points="1045.2,175.3 1046.8,178.7 1049.1,183.6 1051.8,189.2 1054.8,195.3 1058.0,201.8 1061.4,208.5 1065.0,215.4 1068.8,222.4 1072.7,229.5 1076.7,236.6 1080.9,243.7 1085.1,250.9 1089.5,258.0 1094.0,265.0 1098.6,272.0 1103.2,278.9 1108.0,285.7 1112.8,292.4 1117.8,298.9 1122.8,305.4 1127.8,311.7 1133.0,317.9 1138.2,324.0 1143.5,329.9 1148.9,335.6 1154.3,341.2 1159.8,346.7 1165.3,352.0 1170.9,357.2 1176.6,362.2 1182.3,367.1 1188.1,371.8 1193.9,376.3 1199.8,380.8 1205.7,385.0 1211.7,389.1 1217.8,393.1 1223.9,397.0 1230.0,400.7 1236.2,404.3 1242.4,407.7 1248.7,411.0 1255.0,414.2 1261.4,417.3 1267.8,420.2 1274.2,423.0 1280.7,425.7 1287.3,428.3 1293.8,430.8 1300.4,433.2 1307.1,435.5 1313.8,437.7 1320.5,439.8 1327.3,441.8 1334.1,443.7 1341.0,445.5 1347.8,447.3 1354.8,448.9 1361.7,450.5 1368.7,452.0 1375.7,453.5 1382.8,454.9 1389.9,456.2 1397.0,457.4 1404.2,458.6 1411.4,459.7 1418.6,460.8 1425.9,461.8 1433.2,462.8 1440.5,463.7 1447.9,464.6 1455.2,465.4 1462.7,466.2 1470.1,466.9 1477.6,467.6 1485.1,468.3 1492.6,468.9 1500.2,469.5 1507.8,470.0 1515.4,470.6 1523.1,471.1 1530.8,471.5 1538.5,472.0 1546.2,472.4 1554.0,472.8 1561.8,473.2 1569.6,473.5 1577.5,473.9 1585.3,474.2 1593.2,474.5 1601.2,474.7 1609.1,475.0 1617.1,475.2 1625.1,475.5 1633.2,475.7 1641.2,475.9 1649.3,476.1 1657.4,476.3 1665.5,476.4 1673.7,476.6 1681.9,476.7 1690.1,476.9 1698.3,477.0 1706.6,477.1 1714.8,477.2 1723.2,477.3 1731.5,477.4 1739.8,477.5 1748.2,477.6" stroke="#000" stroke-width="3.7" stroke-dasharray="11 15"/>
<polyline points="1045.2,205.3 1046.8,208.7 1049.1,213.7 1051.8,219.4 1054.8,225.6 1058.0,232.1 1061.4,238.8 1065.0,245.7 1068.8,252.7 1072.7,259.8 1076.7,266.8 1080.9,273.9 1085.1,280.9 1089.5,287.9 1094.0,294.7 1098.6,301.5 1103.2,308.2 1108.0,314.7 1112.8,321.1 1117.8,327.4 1122.8,333.5 1127.8,339.5 1133.0,345.3 1138.2,351.0 1143.5,356.5 1148.9,361.8 1154.3,367.0 1159.8,372.0 1165.3,376.8 1170.9,381.5 1176.6,386.0 1182.3,390.4 1188.1,394.6 1193.9,398.6 1199.8,402.5 1205.7,406.3 1211.7,409.8 1217.8,413.3 1223.9,416.6 1230.0,419.8 1236.2,422.8 1242.4,425.7 1248.7,428.5 1255.0,431.1 1261.4,433.6 1267.8,436.1 1274.2,438.4 1280.7,440.6 1287.3,442.7 1293.8,444.6 1300.4,446.5 1307.1,448.3 1313.8,450.1 1320.5,451.7 1327.3,453.2 1334.1,454.7 1341.0,456.1 1347.8,457.4 1354.8,458.6 1361.7,459.8 1368.7,460.9 1375.7,462.0 1382.8,463.0 1389.9,463.9 1397.0,464.8 1404.2,465.7 1411.4,466.4 1418.6,467.2 1425.9,467.9 1433.2,468.6 1440.5,469.2 1447.9,469.8 1455.2,470.3 1462.7,470.8 1470.1,471.3 1477.6,471.8 1485.1,472.2 1492.6,472.6 1500.2,473.0 1507.8,473.3 1515.4,473.6 1523.1,474.0 1530.8,474.2 1538.5,474.5 1546.2,474.8 1554.0,475.0 1561.8,475.2 1569.6,475.4 1577.5,475.6 1585.3,475.8 1593.2,476.0 1601.2,476.1 1609.1,476.3 1617.1,476.4 1625.1,476.5 1633.2,476.6 1641.2,476.7 1649.3,476.8 1657.4,476.9 1665.5,477.0 1673.7,477.1 1681.9,477.2 1690.1,477.2 1698.3,477.3 1706.6,477.4 1714.8,477.4 1723.2,477.5 1731.5,477.5 1739.8,477.6 1748.2,477.6" stroke="#000" stroke-width="3.7" stroke-dasharray="11 15"/></g>
<path d="M100.3,48.5 H825.9 V497 H100.3 Z" fill="none" stroke="#000" stroke-width="1.9"/>
<path d="M1030.8,49 H1762.6 V500.4 H1030.8 Z" fill="none" stroke="#000" stroke-width="2.1"/>
<rect x="519.45" y="72.85" width="277.10" height="97.80" rx="3" fill="#fff" stroke="#000" stroke-width="6.2"/><line x1="534.3" y1="99.9" x2="571.4" y2="99.9" stroke="#ffff1e" stroke-width="2.6"/><line x1="534.8" y1="145.8" x2="570.4" y2="145.8" stroke="#000" stroke-width="2.2" stroke-dasharray="12.7 14.5"/><g><text x="583.73" y="106.2" font-size="25.3">(MgZn</text><text x="657.34" y="110.2" font-size="17">6</text><text x="669.47" y="106.2" font-size="26">Zr)/C</text><text x="729.46" y="110.2" font-size="17">8</text><text x="741.11" y="106.2" font-size="25.5">H</text><text x="760.71" y="110.2" font-size="17">18</text><text x="583.31" y="152.0" font-size="25.5">Regular fluid</text></g>
<rect x="1453.2" y="73.2" width="279.40" height="98.80" rx="3" fill="#fff" stroke="#000" stroke-width="6.2"/><line x1="1468.3" y1="100.7" x2="1505.4" y2="100.7" stroke="#ffff1e" stroke-width="2.6"/><line x1="1468.8" y1="146.6" x2="1504.4" y2="146.6" stroke="#000" stroke-width="2.2" stroke-dasharray="12.7 14.5"/><g transform="translate(1518.9,100.8) scale(1.012) translate(-584.7,-100)"><text x="583.73" y="106.2" font-size="25.3">(MgZn</text><text x="657.34" y="110.2" font-size="17">6</text><text x="669.47" y="106.2" font-size="26">Zr)/C</text><text x="729.46" y="110.2" font-size="17">8</text><text x="741.11" y="106.2" font-size="25.5">H</text><text x="760.71" y="110.2" font-size="17">18</text><text x="583.31" y="152.0" font-size="25.5">Regular fluid</text></g>
<text x="521.34" y="231.6" font-size="21.5" font-style="italic">R</text><text x="536.66" y="237.0" font-size="15">1</text><text x="552.95" y="231.6" font-size="21.5">= 0.1, 0.3, 0.5, 0.7, 0.9</text>
<text x="1450.43" y="226.6" font-size="21.75" font-style="italic">R</text><text x="1466.16" y="232.0" font-size="15">1</text><text x="1483.14" y="226.6" font-size="21.75">= 0.1, 0.3, 0.5, 0.7, 0.9</text>
<line x1="325.8" y1="303.1" x2="217.5" y2="399.9" stroke="#000" stroke-width="2" stroke-linecap="round"/><polygon points="200.1,415.5 215.3,392.7 218.3,399.2 224.5,403.0" fill="#000"/>
<line x1="1275.8" y1="301.0" x2="1153.1" y2="408.4" stroke="#000" stroke-width="2" stroke-linecap="round"/><polygon points="1135.5,423.8 1150.9,401.2 1153.9,407.7 1160.0,411.5" fill="#000"/>
<text transform="translate(93,484.2) scale(1,1.06)" class="t28" text-anchor="end">0.00</text><text transform="translate(93,393.1) scale(1,1.06)" class="t28" text-anchor="end">0.05</text><text transform="translate(93,302.0) scale(1,1.06)" class="t28" text-anchor="end">0.10</text><text transform="translate(93,210.8) scale(1,1.06)" class="t28" text-anchor="end">0.15</text><text transform="translate(93,119.7) scale(1,1.06)" class="t28" text-anchor="end">0.20</text>
<text transform="translate(1023.3,487.2) scale(1,1.06)" class="t28" text-anchor="end">0.00</text><text transform="translate(1023.3,429.0) scale(1,1.06)" class="t28" text-anchor="end">0.02</text><text transform="translate(1023.3,370.9) scale(1,1.06)" class="t28" text-anchor="end">0.04</text><text transform="translate(1023.3,312.7) scale(1,1.06)" class="t28" text-anchor="end">0.06</text><text transform="translate(1023.3,254.6) scale(1,1.06)" class="t28" text-anchor="end">0.08</text><text transform="translate(1023.3,196.4) scale(1,1.06)" class="t28" text-anchor="end">0.10</text><text transform="translate(1023.3,138.2) scale(1,1.06)" class="t28" text-anchor="end">0.12</text><text transform="translate(1023.3,80.1) scale(1,1.06)" class="t28" text-anchor="end">0.14</text>
<text transform="translate(114.3,528.6) scale(1,1.05)" class="t28" text-anchor="middle">0</text><text transform="translate(253.8,528.6) scale(1,1.05)" class="t28" text-anchor="middle">1</text><text transform="translate(393.3,528.6) scale(1,1.05)" class="t28" text-anchor="middle">2</text><text transform="translate(532.8,528.6) scale(1,1.05)" class="t28" text-anchor="middle">3</text><text transform="translate(672.3,528.6) scale(1,1.05)" class="t28" text-anchor="middle">4</text><text transform="translate(811.8,528.6) scale(1,1.05)" class="t28" text-anchor="middle">5</text>
<text transform="translate(1045.2,532.6) scale(1,1.05)" class="t28" text-anchor="middle">0</text><text transform="translate(1185.8,532.6) scale(1,1.05)" class="t28" text-anchor="middle">1</text><text transform="translate(1326.4,532.6) scale(1,1.05)" class="t28" text-anchor="middle">2</text><text transform="translate(1467.0,532.6) scale(1,1.05)" class="t28" text-anchor="middle">3</text><text transform="translate(1607.6,532.6) scale(1,1.05)" class="t28" text-anchor="middle">4</text><text transform="translate(1748.2,532.6) scale(1,1.05)" class="t28" text-anchor="middle">5</text>
<text transform="translate(25,303.6) rotate(-90)" class="t28">G'(<tspan font-style="italic">&#x3B7;</tspan>)</text>
<text transform="translate(955,305.5) rotate(-90)" class="t28">G'(<tspan font-style="italic">&#x3B7;</tspan>)</text>
<text x="456" y="567.2" class="t28" font-style="italic">&#x3B7;</text>
<text x="1389" y="570.6" class="t28" font-style="italic">&#x3B7;</text>
</svg>
</body></html>
